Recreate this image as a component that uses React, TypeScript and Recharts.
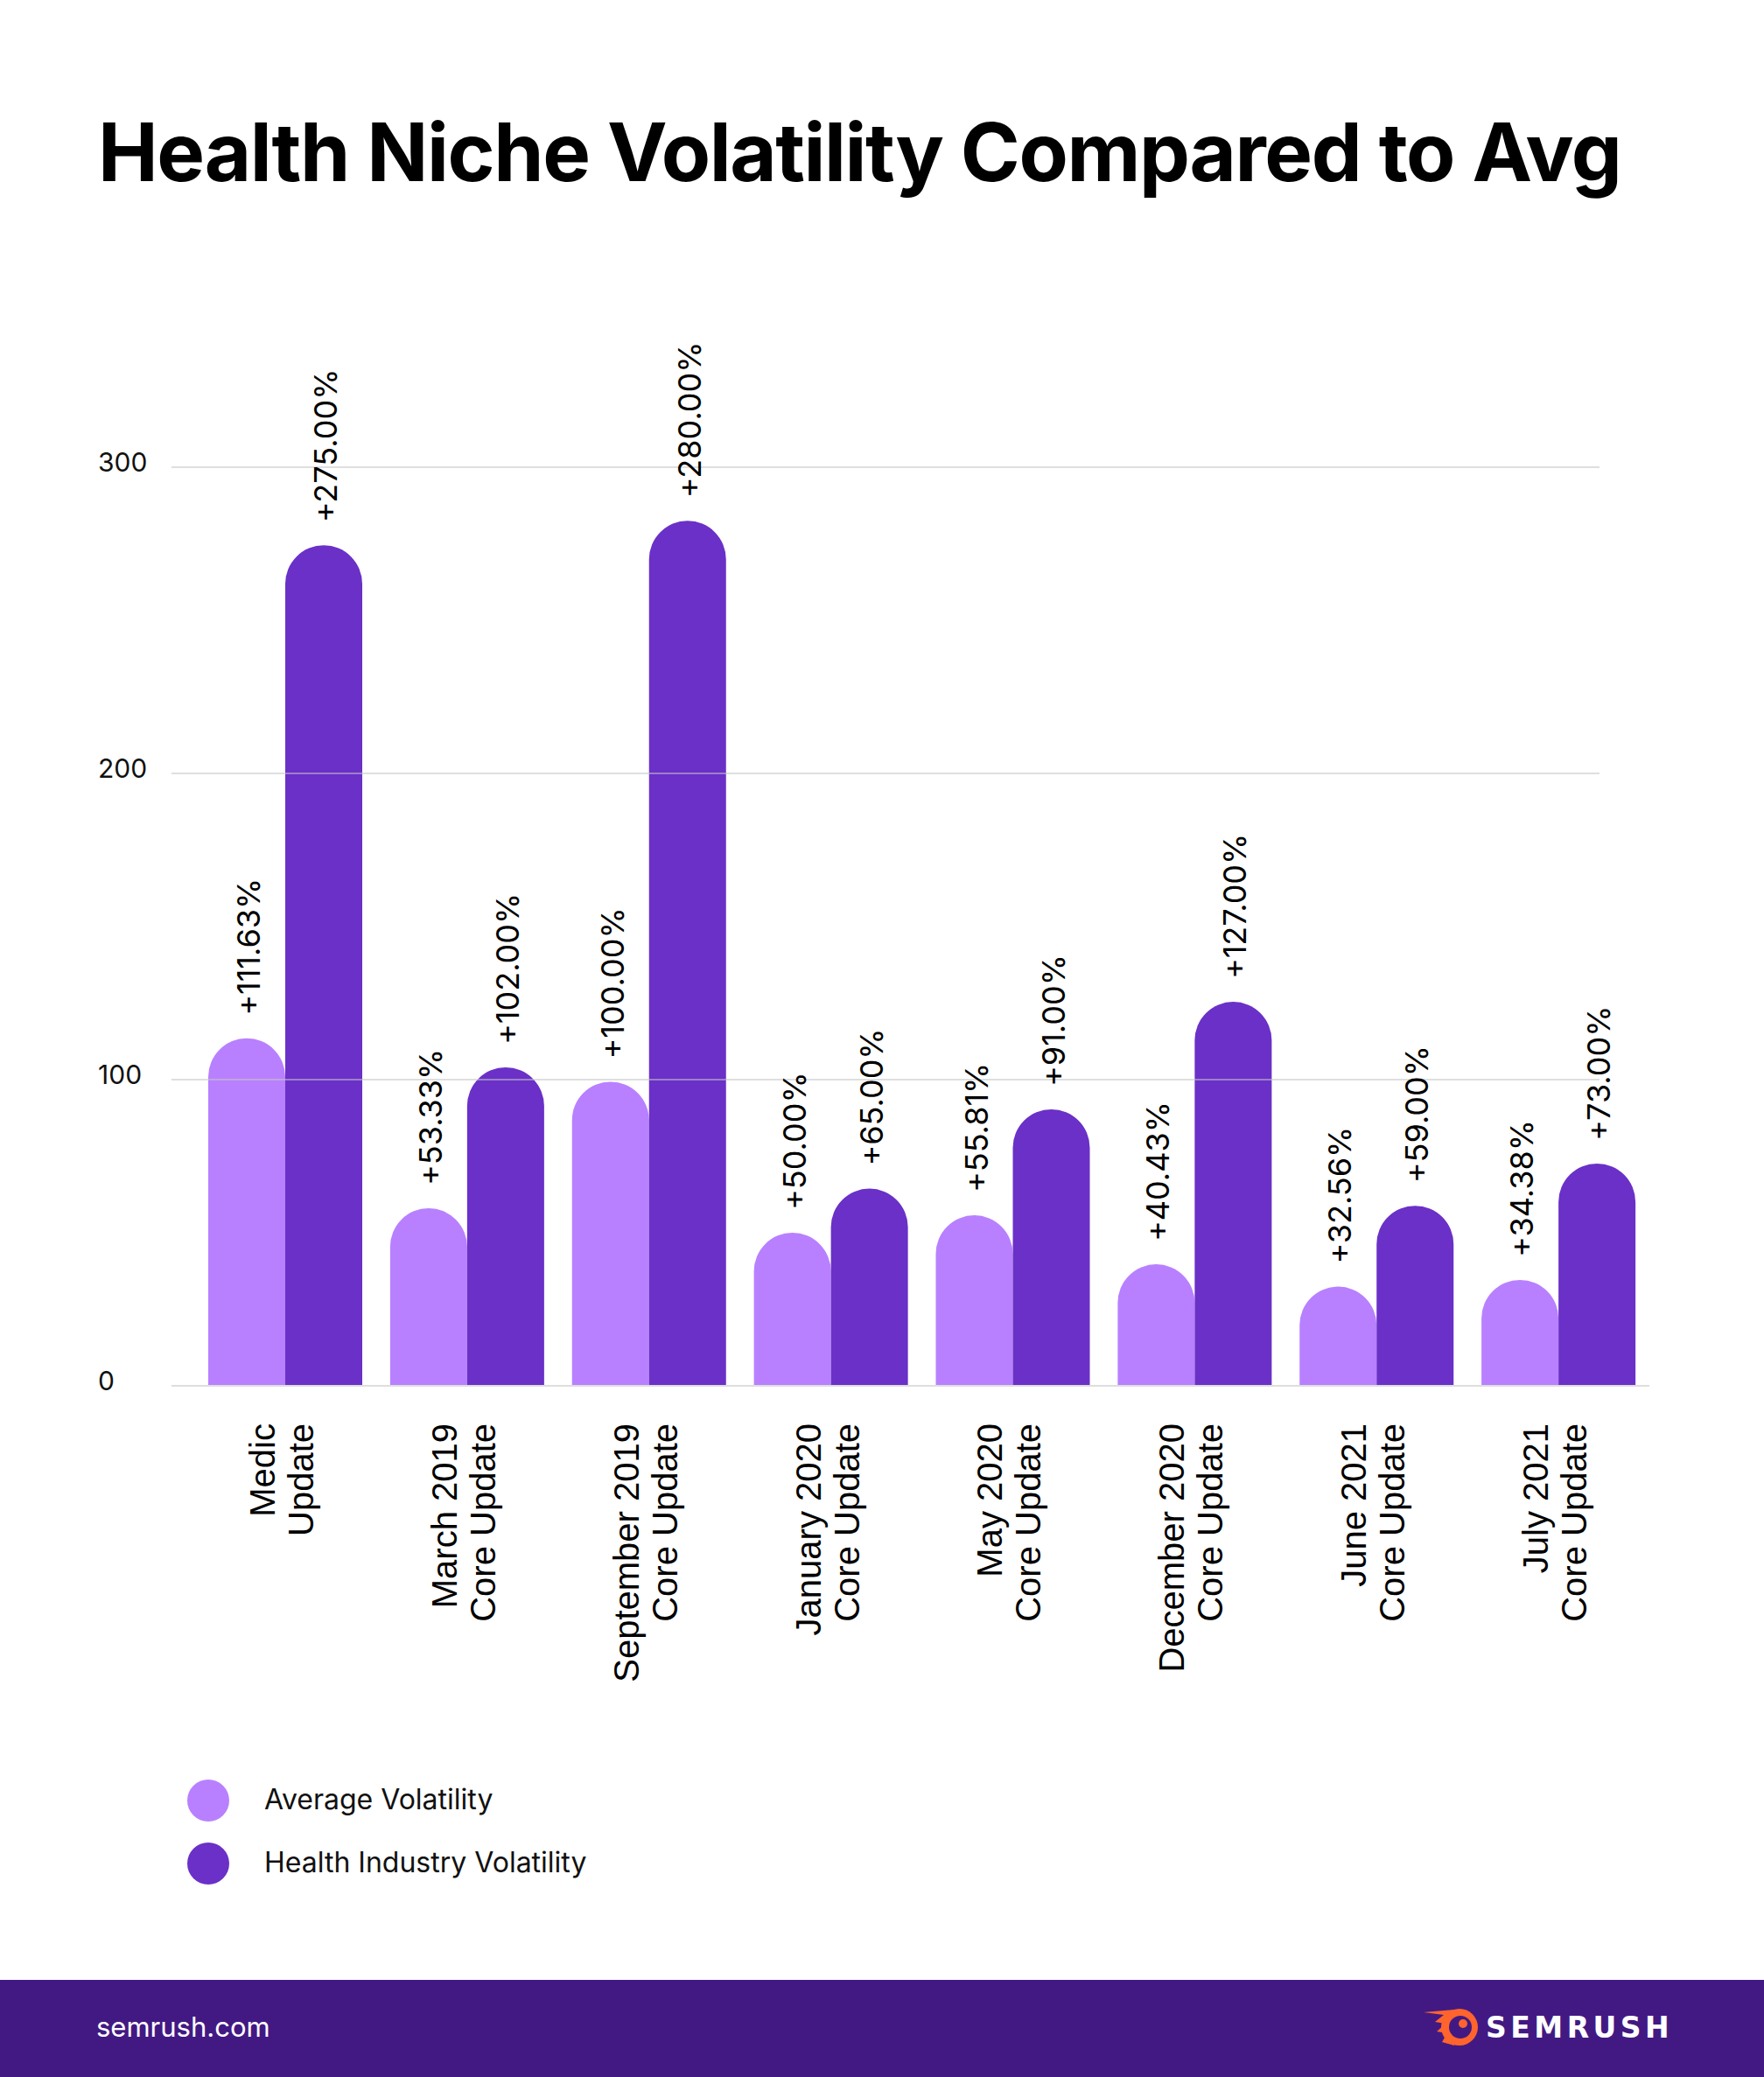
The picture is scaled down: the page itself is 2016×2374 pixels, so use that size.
import { Bar, BarChart, CartesianGrid, LabelList, XAxis, YAxis } from "recharts";

const categories = [
  "Medic\nUpdate",
  "March 2019\nCore Update",
  "September 2019\nCore Update",
  "January 2020\nCore Update",
  "May 2020\nCore Update",
  "December 2020\nCore Update",
  "June 2021\nCore Update",
  "July 2021\nCore Update",
];
const averageVolatility = [113.5, 58, 99.3, 50, 55.7, 39.7, 32.4, 34.6];
const healthVolatility = [274.5, 104, 282.5, 64.4, 90.3, 125.4, 58.8, 72.6];
const averageLabels = ["+111.63%", "+53.33%", "+100.00%", "+50.00%", "+55.81%", "+40.43%", "+32.56%", "+34.38%"];
const healthLabels = ["+275.00%", "+102.00%", "+280.00%", "+65.00%", "+91.00%", "+127.00%", "+59.00%", "+73.00%"];
const yTicks = [0, 100, 200, 300];
const seriesNames = ["Average Volatility", "Health Industry Volatility"];

const LIGHT = "#B880FF";
const DARK = "#6A30C7";
const FOOTER = "#421983";

const data = categories.map((name, i) => ({
  name,
  avg: averageVolatility[i],
  health: healthVolatility[i],
  avgLabel: averageLabels[i],
  healthLabel: healthLabels[i],
}));

function XTick(props: any) {
  const { x, y, payload } = props;
  const lines = String(payload.value).split("\n");
  return (
    <g transform={`translate(${x},${y + 43}) rotate(-90)`}>
      <text textAnchor="end" fontFamily="'Liberation Sans', Arial, sans-serif" fontSize={40} fill="#000">
        <tspan x={0} y={-12}>{lines[0]}</tspan>
        <tspan x={0} y={32}>{lines[1]}</tspan>
      </text>
    </g>
  );
}

function YTick(props: any) {
  const { y, payload } = props;
  return (
    <text x={112} y={y + 5} fontFamily="Inter, sans-serif" fontSize={30} fill="#111">
      {payload.value}
    </text>
  );
}

function BarLabel(props: any) {
  const { x, y, width, value } = props;
  return (
    <text
      transform={`translate(${x + width / 2 + 15},${y - 26}) rotate(-90)`}
      fontFamily="Inter, sans-serif"
      fontSize={36}
      fill="#000"
    >
      {value}
    </text>
  );
}

function GridLine(props: any) {
  const { x1, x2, y1, key } = props;
  if (y1 > 1580) return <g key={key} />;
  return <line key={key} x1={x1} x2={x2 - 57} y1={y1} y2={y1} stroke="#c4c4c4" strokeOpacity={0.55} strokeWidth={2} />;
}

function Logo() {
  return (
    <g>
      <path d="M1627 2300 L1650 2303 L1640 2311 L1652 2313 L1642 2322 L1654 2324 L1648 2334 L1662 2338 L1662 2297 Z" fill="#FF642D" />
      <circle cx={1668} cy={2317} r={21} fill="#FF642D" />
      <circle cx={1669} cy={2317} r={13} fill={FOOTER} />
      <circle cx={1672} cy={2313} r={5} fill="#FF642D" />
      <text x={1698} y={2329} fontFamily="'DejaVu Sans', sans-serif" fontWeight={700} fontSize={33} letterSpacing={4.5} fill="#fff">
        SEMRUSH
      </text>
    </g>
  );
}

export default function App() {
  return (
    <div style={{ position: "absolute", left: 0, top: 0, width: 2016, height: 2374, background: "#fff" }}>
      <svg width={2016} height={2374} style={{ position: "absolute", left: 0, top: 0 }}>
        <text x={112} y={207} fontFamily="Inter, sans-serif" fontWeight={700} fontSize={92} letterSpacing={-1.4} fill="#000">
          Health Niche Volatility Compared to Avg
        </text>
        {seriesNames.map((s, i) => (
          <g key={s}>
            <circle cx={238} cy={2058 + i * 72} r={24} fill={i === 0 ? LIGHT : DARK} />
            <text x={302} y={2068 + i * 72} fontFamily="Inter, sans-serif" fontSize={32} fill="#111">
              {s}
            </text>
          </g>
        ))}
        <rect x={0} y={2263} width={2016} height={111} fill={FOOTER} />
        <text x={110} y={2328} fontFamily="Inter, sans-serif" fontSize={31} fill="#fff">
          semrush.com
        </text>
        <Logo />
      </svg>
      <div style={{ position: "absolute", left: 0, top: 0 }}>
        <BarChart
          width={2016}
          height={1960}
          data={data}
          margin={{ top: 534, right: 131, bottom: 0, left: 0 }}
          barGap={0}
          barSize={88}
        >
          <XAxis
            dataKey="name"
            height={376}
            interval={0}
            tickLine={false}
            tickSize={0}
            tickMargin={0}
            padding={{ left: 26, right: 0 }}
            axisLine={{ stroke: "#dedede", strokeWidth: 2 }}
            tick={<XTick />}
          />
          <YAxis width={196} domain={[0, 300]} ticks={yTicks} axisLine={false} tickLine={false} tick={<YTick />} />
          <Bar dataKey="avg" name={seriesNames[0]} fill={LIGHT} radius={[44, 44, 0, 0]} isAnimationActive={false}>
            <LabelList dataKey="avgLabel" content={<BarLabel />} />
          </Bar>
          <Bar dataKey="health" name={seriesNames[1]} fill={DARK} radius={[44, 44, 0, 0]} isAnimationActive={false}>
            <LabelList dataKey="healthLabel" content={<BarLabel />} />
          </Bar>
          <CartesianGrid vertical={false} horizontal={GridLine} zIndex={1000} />
        </BarChart>
      </div>
    </div>
  );
}
